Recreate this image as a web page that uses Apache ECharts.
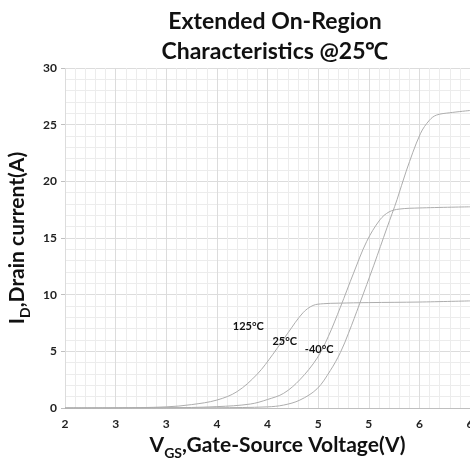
<!DOCTYPE html>
<html><head><meta charset="utf-8">
<script src="https://cdn.jsdelivr.net/npm/echarts@6/dist/echarts.min.js"></script>
<style>html,body{margin:0;padding:0;background:#fff}#c{width:470px;height:459px}</style>
</head><body><div id="c"></div>
<script>
const titleLines = ['Extended On-Region', 'Characteristics @25\u2103'];
const xTickValues = [2, 2.5, 3, 3.5, 4, 4.5, 5, 5.5, 6];
const xTickLabels = ['2', '3', '3', '4', '4', '5', '5', '6', '6'];
const seriesNames = ['125\u00b0C', '25\u00b0C', '-40\u00b0C'];

const vgs125 = [2.0, 2.5, 3.0, 3.25, 3.5, 3.7, 3.9, 4.05, 4.2, 4.35, 4.45, 4.55, 4.7, 5.0, 5.5, 6.0];
const id125  = [0.0, 0.01, 0.1, 0.3, 0.7, 1.45, 3.0, 4.7, 6.6, 8.4, 9.05, 9.2, 9.25, 9.3, 9.35, 9.45];

const vgs25 = [2.0, 3.0, 3.5, 3.83, 4.0, 4.16, 4.32, 4.49, 4.6, 4.72, 4.85, 4.98, 5.11, 5.2, 5.3, 5.5, 6.0];
const id25  = [0.0, 0.02, 0.12, 0.35, 0.75, 1.3, 2.5, 4.4, 6.3, 8.9, 11.9, 14.7, 16.6, 17.3, 17.55, 17.65, 17.75];

const vgsM40 = [2.0, 3.0, 3.5, 4.0, 4.16, 4.32, 4.49, 4.62, 4.72, 4.8, 4.91, 5.05, 5.18, 5.28, 5.37, 5.51, 5.6, 5.67, 5.8, 6.0];
const idM40  = [0.0, 0.005, 0.02, 0.1, 0.26, 0.7, 1.7, 3.3, 4.9, 6.6, 9.2, 12.6, 15.9, 18.4, 20.9, 24.2, 25.4, 25.85, 26.05, 26.25];

const labelCoords = [[3.81, 7.2], [4.17, 5.9], [4.51, 5.2]];

const zip = (a, b) => a.map((v, i) => [v, b[i]]);
const curves = [zip(vgs125, id125), zip(vgs25, id25), zip(vgsM40, idM40)];

const FONT = 'Lato';
const chart = echarts.init(document.getElementById('c'), null, {renderer: 'canvas'});
chart.setOption({
  animation: false,
  backgroundColor: '#fff',
  title: {
    text: titleLines.join('\n'),
    left: 270, top: 2, textAlign: 'center',
    textStyle: {fontFamily: FONT, fontWeight: 'bold', fontSize: 23, lineHeight: 30, color: '#111'}
  },
  grid: {left: 65, right: 0, top: 68, bottom: 51, containLabel: false, outerBoundsMode: 'none'},
  xAxis: {
    type: 'value', min: 2, max: 6, interval: 0.5,
    name: '{b|V}{s|GS}{b|,Gate-Source Voltage(V)}',
    nameLocation: 'middle', nameGap: 24,
    nameTextStyle: {padding: [0, 0, 0, 20], rich: {
      b: {fontFamily: FONT, fontWeight: 'bold', fontSize: 21, color: '#111', lineHeight: 24, verticalAlign: 'bottom'},
      s: {fontFamily: FONT, fontWeight: 'bold', fontSize: 14, color: '#111', lineHeight: 24, verticalAlign: 'bottom', padding: [0, 0, -4, 0]}
    }},
    axisLine: {show: true, lineStyle: {color: '#bfbfbf', width: 1}},
    axisTick: {show: false},
    axisLabel: {fontFamily: FONT, fontWeight: 'bold', fontSize: 12, color: '#222', margin: 10,
      formatter: v => { const i = xTickValues.findIndex(t => Math.abs(t - v) < 1e-6); return i >= 0 ? xTickLabels[i] : ''; }},
    splitLine: {show: true, lineStyle: {color: '#dcdcdc', width: 1}},
    minorTick: {show: false, splitNumber: 5},
    minorSplitLine: {show: true, lineStyle: {color: '#ececec', width: 1}}
  },
  yAxis: {
    type: 'value', min: 0, max: 30, interval: 5,
    name: '{b|I}{s|D}{b|,Drain current(A)}',
    nameLocation: 'middle', nameGap: 33, nameRotate: 90,
    nameTextStyle: {rich: {
      b: {fontFamily: FONT, fontWeight: 'bold', fontSize: 21, color: '#111', lineHeight: 24, verticalAlign: 'bottom'},
      s: {fontFamily: FONT, fontWeight: 'bold', fontSize: 14, color: '#111', lineHeight: 24, verticalAlign: 'bottom', padding: [0, 0, -4, 0]}
    }},
    axisLine: {show: false},
    axisTick: {show: true, length: 4, lineStyle: {color: '#bfbfbf'}},
    axisLabel: {fontFamily: FONT, fontWeight: 'bold', fontSize: 12, color: '#222', margin: 8},
    splitLine: {show: true, lineStyle: {color: '#dcdcdc', width: 1}},
    minorTick: {show: false, splitNumber: 5},
    minorSplitLine: {show: true, lineStyle: {color: '#ececec', width: 1}}
  },
  series: curves.map((d, i) => ({
    name: seriesNames[i], type: 'line', data: d, showSymbol: false,
    smooth: 0.35,
    lineStyle: {color: '#adadad', width: 1},
    markPoint: {
      symbol: 'circle', symbolSize: 0, silent: true,
      data: [{coord: labelCoords[i], value: seriesNames[i]}],
      label: {show: true, position: 'inside', formatter: seriesNames[i],
        fontFamily: FONT, fontWeight: 'bold', fontSize: 11, color: '#111'}
    }
  }))
});
</script></body></html>
